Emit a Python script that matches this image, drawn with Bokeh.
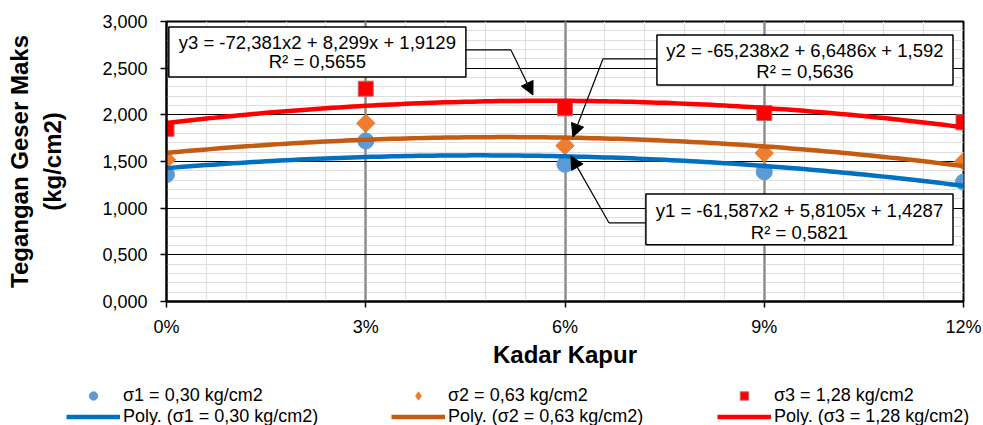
import numpy as np
from bokeh.plotting import figure
from bokeh.models import (Range1d, SingleIntervalTicker, CustomJSTickFormatter,
                          Legend, LegendItem, Arrow, NormalHead, Grid)
from bokeh.core.properties import value
from bokeh.embed import file_html
from bokeh.resources import INLINE

# ---------------- data ----------------
kadar_kapur = [0.00, 0.03, 0.06, 0.09, 0.12]
sigma1_vals = [1.36, 1.72, 1.47, 1.39, 1.28]
sigma2_vals = [1.52, 1.91, 1.67, 1.59, 1.50]
sigma3_vals = [1.85, 2.28, 2.07, 2.02, 1.92]
series_names = ["σ1 = 0,30 kg/cm2", "σ2 = 0,63 kg/cm2", "σ3 = 1,28 kg/cm2"]
poly1 = [-61.587, 5.8105, 1.4287]
poly2 = [-65.238, 6.6486, 1.592]
poly3 = [-72.381, 8.299, 1.9129]
eq_texts = ["y1 = -61,587x2 + 5,8105x + 1,4287",
            "y2 = -65,238x2 + 6,6486x + 1,592",
            "y3 = -72,381x2 + 8,299x + 1,9129"]
r2_texts = ["R² = 0,5821", "R² = 0,5636", "R² = 0,5655"]

FONT = "Liberation Sans"
marker_colors = ["#5B9BD5", "#ED7D31", "#FF0000"]
line_colors = ["#0070C0", "#C55A11", "#FF0000"]

p = figure(width=983, height=372, x_range=Range1d(0, 0.12), y_range=Range1d(0, 3),
           output_backend="svg", toolbar_location=None,
           min_border_left=166, min_border_right=20, min_border_top=21, min_border_bottom=71)
p.background_fill_color = "white"
p.border_fill_color = "white"
p.outline_line_color = "black"
p.outline_line_width = 2
p.outline_line_alpha = 1

xt = SingleIntervalTicker(interval=0.03, num_minor_ticks=5)
yt = SingleIntervalTicker(interval=0.5, num_minor_ticks=5)
p.xaxis.ticker = xt
p.yaxis.ticker = yt
p.xgrid.ticker = xt
p.ygrid.ticker = yt
p.xaxis.formatter = CustomJSTickFormatter(code="return Math.round(tick*100) + '%';")
p.yaxis.formatter = CustomJSTickFormatter(code="return tick.toFixed(3).replace('.', ',');")

# minor grids underneath everything
p.add_layout(Grid(dimension=0, ticker=xt, grid_line_color=None,
                  minor_grid_line_color="#DEDEDE", level="image"))
p.add_layout(Grid(dimension=1, ticker=yt, grid_line_color=None,
                  minor_grid_line_color="#DEDEDE", level="image"))
p.xgrid.grid_line_color = "#8C8C8C"
p.xgrid.grid_line_width = 2
p.ygrid.grid_line_color = "black"
p.ygrid.grid_line_width = 1

for ax in (p.xaxis[0], p.yaxis[0]):
    ax.axis_line_color = "black"
    ax.axis_line_width = 2
    ax.major_tick_line_color = "black"
    ax.major_tick_line_width = 1.5
    ax.major_tick_out = 6
    ax.major_tick_in = 0
    ax.minor_tick_line_color = None
    ax.major_label_text_font = FONT
    ax.major_label_text_font_size = "18px"
    ax.major_label_text_color = "black"
    ax.axis_label_text_font = FONT
    ax.axis_label_text_font_size = "24px"
    ax.axis_label_text_font_style = "bold"
    ax.axis_label_text_color = "black"

p.xaxis.axis_label = "Kadar Kapur"
p.xaxis.major_label_standoff = 9
p.xaxis.axis_label_standoff = 1
p.yaxis.axis_label = "Tegangan Geser Maks\n(kg/cm2)"
p.yaxis.major_label_standoff = 13
p.yaxis.axis_label_standoff = 33
p.yaxis.axis_label_text_line_height = 1.25

# ---------------- markers ----------------
m1 = p.scatter(kadar_kapur, sigma1_vals, marker="circle", size=16,
               fill_color=marker_colors[0], line_color=marker_colors[0])
m2 = p.scatter(kadar_kapur, sigma2_vals, marker="square", angle=np.pi / 4, size=13,
               fill_color=marker_colors[1], line_color=marker_colors[1])
m3 = p.scatter(kadar_kapur, sigma3_vals, marker="square", size=15,
               fill_color=marker_colors[2], line_color="#C86464", line_width=1)

# ---------------- trendlines ----------------
xs = np.linspace(0, 0.12, 121)
for poly, col in zip([poly1, poly2, poly3], line_colors):
    p.line(xs, np.polyval(poly, xs), line_color=col, line_width=4.5)

# ---------------- equation boxes ----------------
box_left = [0.07218, 0.07384, 0.00035]
box_right = [0.11842, 0.11842, 0.04508]
box_top = [1.153, 2.855, 2.941]
box_bottom = [0.607, 2.320, 2.406]
box_cx = [0.0953, 0.09613, 0.02271]
eq_y = [0.971, 2.684, 2.770]
r2_y = [0.736, 2.459, 2.567]
p.quad(left=box_left, right=box_right, top=box_top, bottom=box_bottom,
       fill_color="white", line_color="black", line_width=1.5)
p.text(x=box_cx + box_cx, y=eq_y + r2_y, text=eq_texts + r2_texts,
       text_font=value(FONT), text_font_size=value("18.5px"), text_color="black",
       text_align="center", text_baseline="middle")

# leader lines: box edge -> elbow, then elbow -> arrow tip
lead_x0 = [0.07218, 0.07384, 0.04508]
lead_x1 = [0.06661, 0.06571, 0.05186]
lead_y = [0.843, 2.599, 2.695]
tip_x = [0.06089, 0.06119, 0.05517]
tip_y = [1.560, 1.763, 2.213]
p.segment(x0=lead_x0, y0=lead_y, x1=lead_x1, y1=lead_y, line_color="black", line_width=1.2)
for i in range(3):
    p.add_layout(Arrow(end=NormalHead(size=13, fill_color="black", line_color="black"),
                       x_start=lead_x1[i], y_start=lead_y[i], x_end=tip_x[i], y_end=tip_y[i],
                       line_color="black", line_width=1.2))

# ---------------- legend (separate strip below the chart) ----------------
lf = figure(width=983, height=53, x_range=Range1d(0, 1), y_range=Range1d(0, 1),
            x_axis_type=None, y_axis_type=None, output_backend="svg",
            toolbar_location=None, min_border=0)
lf.outline_line_color = None
lf.background_fill_color = "white"
lf.border_fill_color = "white"
# key renderers: a single point each, kept outside the visible range (legend keys only)
hidden_x = [-10]
hidden_y = [-10]
km1 = lf.scatter(x=hidden_x, y=hidden_y, marker="circle",
                 fill_color=marker_colors[0], line_color=marker_colors[0])
km2 = lf.scatter(x=hidden_x, y=hidden_y, marker="diamond",
                 fill_color=marker_colors[1], line_color=marker_colors[1])
km3 = lf.scatter(x=hidden_x, y=hidden_y, marker="square",
                 fill_color=marker_colors[2], line_color="#C86464")
kl = [lf.line(x=hidden_x * 2, y=hidden_y * 2, line_color=c, line_width=4.5) for c in line_colors]
key_markers = [km1, km2, km3]
legend_x = [66, 391, 717]
for i in range(3):
    leg = Legend(items=[LegendItem(label=series_names[i], renderers=[key_markers[i]]),
                        LegendItem(label="Poly. (" + series_names[i] + ")", renderers=[kl[i]])],
                 location=(legend_x[i], -2), orientation="vertical",
                 glyph_width=54, glyph_height=21, label_height=21, label_standoff=3,
                 spacing=0, padding=0, margin=0, border_line_alpha=0,
                 background_fill_alpha=0, label_text_font=FONT,
                 label_text_font_size="18px", label_text_color="black")
    lf.add_layout(leg)

open("out.html", "w").write(file_html([p, lf], INLINE))
